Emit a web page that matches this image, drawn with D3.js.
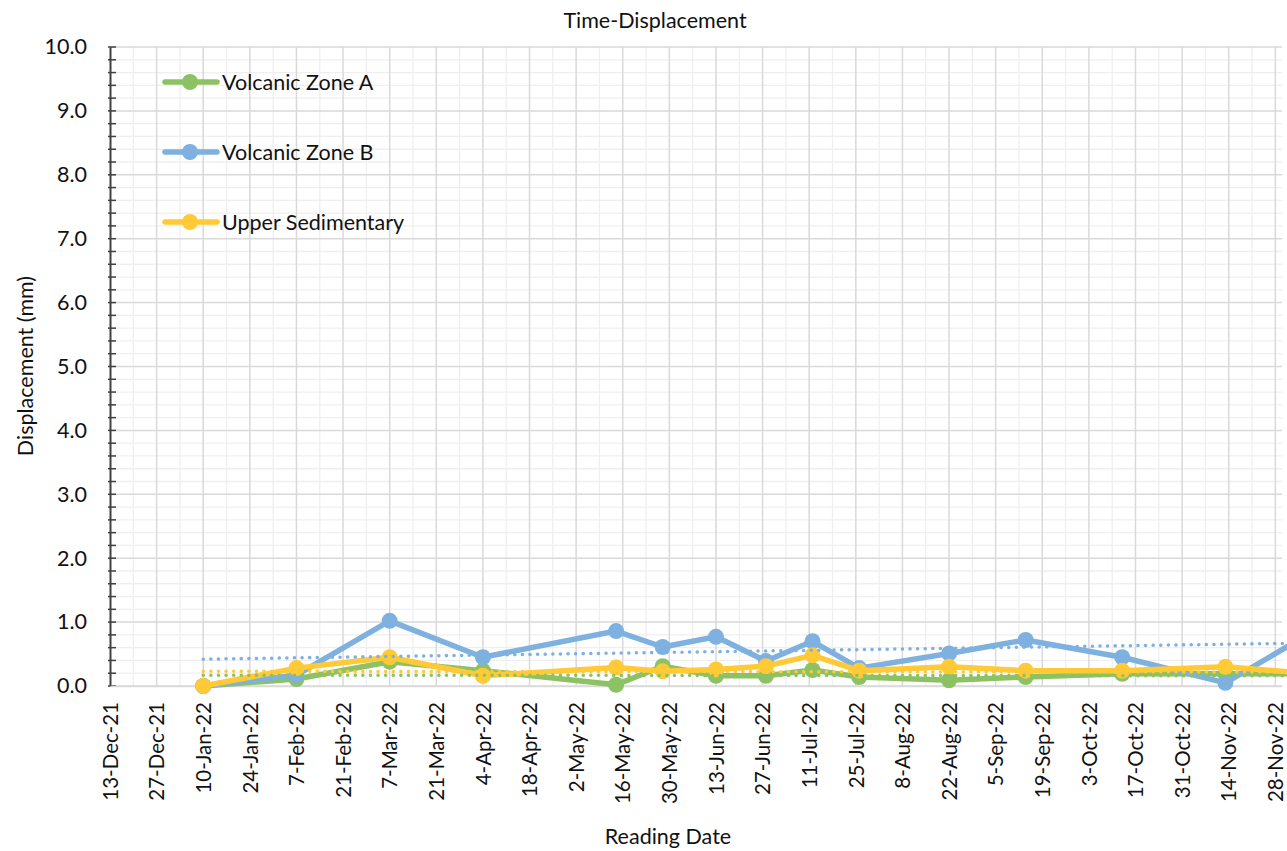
<!DOCTYPE html>
<html>
<head>
<meta charset="utf-8">
<script src="https://d3js.org/d3.v7.min.js"></script>
<style>
  html, body { margin: 0; padding: 0; background: #fff; overflow: hidden; }
  svg { display: block; }
</style>
</head>
<body>
<svg id="chart" width="1287" height="851"></svg>
<script>
// ---------- data ----------
const readingDates = ["2022-01-10","2022-02-07","2022-03-07","2022-04-04","2022-05-14","2022-05-28",
  "2022-06-13","2022-06-28","2022-07-12","2022-07-26","2022-08-22","2022-09-14","2022-10-13","2022-11-13","2022-12-05"];
const volcanicZoneA   = [0.00,0.11,0.38,0.24,0.02,0.31,0.16,0.16,0.25,0.14,0.09,0.14,0.19,0.19,0.19];
const volcanicZoneB   = [0.00,0.17,1.02,0.45,0.86,0.61,0.77,0.39,0.70,0.28,0.51,0.72,0.45,0.05,0.72];
const upperSedimentary= [0.00,0.28,0.45,0.16,0.29,0.23,0.26,0.31,0.48,0.24,0.30,0.24,0.24,0.30,0.21];
// linear trendline values at first and last reading date
const trendDates  = ["2022-01-10","2022-12-05"];
const trendZoneA  = [0.17, 0.16];
const trendZoneB  = [0.42, 0.67];
const trendUpper  = [0.23, 0.22];
const seriesNames = ["Volcanic Zone A","Volcanic Zone B","Upper Sedimentary"];
const seriesColors = ["#8cc263","#7eb1df","#ffca35"];
const xDomain = ["2021-12-13","2022-11-30"];
const yDomain = [0, 10];
const chartTitle = "Time-Displacement";
const xTitle = "Reading Date";
const yTitle = "Displacement (mm)";

// ---------- setup ----------
const FONT = "Lato, 'Open Sans', sans-serif";
const parse = d3.timeParse("%Y-%m-%d");
const dates = readingDates.map(parse);
const seriesValues = [volcanicZoneA, volcanicZoneB, upperSedimentary];
const trendValues = [trendZoneA, trendZoneB, trendUpper];

const svg = d3.select("#chart");
const plot = {left: 110, right: 1282, top: 47, bottom: 686};

const x = d3.scaleTime().domain(xDomain.map(parse)).range([plot.left, plot.right]);
const y = d3.scaleLinear().domain(yDomain).range([plot.bottom, plot.top]);

const start = parse(xDomain[0]);
const majorDates = d3.range(0, 400, 14).map(k => d3.timeDay.offset(start, k)).filter(d => d <= x.domain()[1]);
const minorDates = d3.range(7, 400, 14).map(k => d3.timeDay.offset(start, k)).filter(d => d <= x.domain()[1]);
const minorY = d3.range(0, 10.001, 0.2).filter(v => Math.abs(v - Math.round(v)) > 1e-6);
const majorY = d3.range(0, 11, 1);

// ---------- grid ----------
const grid = svg.append("g");
grid.selectAll(".hmin").data(minorY).join("line")
  .attr("x1", plot.left).attr("x2", plot.right)
  .attr("y1", d => y(d)).attr("y2", d => y(d))
  .attr("stroke", "#efefef").attr("stroke-width", 1.3);
grid.selectAll(".vmin").data(minorDates).join("line")
  .attr("x1", d => x(d)).attr("x2", d => x(d))
  .attr("y1", plot.top).attr("y2", plot.bottom)
  .attr("stroke", "#efefef").attr("stroke-width", 1.3);
grid.selectAll(".hmaj").data(majorY).join("line")
  .attr("x1", plot.left).attr("x2", plot.right)
  .attr("y1", d => y(d)).attr("y2", d => y(d))
  .attr("stroke", "#d9d9d9").attr("stroke-width", 1.5);
grid.selectAll(".vmaj").data(majorDates.slice(1)).join("line")
  .attr("x1", d => x(d)).attr("x2", d => x(d))
  .attr("y1", plot.top).attr("y2", plot.bottom)
  .attr("stroke", "#d9d9d9").attr("stroke-width", 1.5);

// ---------- axes ----------
const yAxis = d3.axisLeft(y).tickValues(majorY).tickFormat(d3.format(".1f")).tickSize(0).tickPadding(23);
const yg = svg.append("g").attr("transform", `translate(${plot.left},0)`).call(yAxis);
yg.select(".domain").attr("stroke", "#404040").attr("stroke-width", 2);
yg.selectAll("text").attr("font-family", FONT).attr("font-size", 21.5).attr("fill", "#111");
svg.append("g").selectAll("line").data(d3.range(0, 10.001, 0.2)).join("line")
  .attr("x1", plot.left - 2).attr("x2", plot.left + 6)
  .attr("y1", d => y(d)).attr("y2", d => y(d))
  .attr("stroke", "#404040").attr("stroke-width", 1.5);

const xAxis = d3.axisBottom(x).tickValues(majorDates).tickFormat(d3.timeFormat("%-d-%b-%y")).tickSize(0);
const xg = svg.append("g").attr("transform", `translate(0,${plot.bottom})`).call(xAxis);
xg.select(".domain").attr("stroke", "#d9d9d9").attr("stroke-width", 1.5);
xg.selectAll("text")
  .attr("font-family", FONT).attr("font-size", 20.5).attr("fill", "#111")
  .attr("transform", "rotate(-90)")
  .attr("text-anchor", "end")
  .attr("x", -16).attr("y", 0).attr("dy", "0.35em");

// ---------- series ----------
const line = d3.line().x(d => x(d[0])).y(d => y(d[1]));
const seriesG = svg.append("g");
seriesValues.forEach((vals, i) => {
  const pts = dates.map((d, j) => [d, vals[j]]);
  const g = seriesG.append("g");
  g.append("path").datum(pts).attr("d", line)
    .attr("fill", "none").attr("stroke", seriesColors[i]).attr("stroke-width", 5.5)
    .attr("stroke-linejoin", "round").attr("stroke-linecap", "round");
  g.selectAll("circle").data(pts).join("circle")
    .attr("cx", d => x(d[0])).attr("cy", d => y(d[1])).attr("r", 8)
    .attr("fill", seriesColors[i]);
});

// ---------- linear trendlines ----------
const tDates = trendDates.map(parse);
trendValues.forEach((vals, i) => {
  const ends = tDates.map((d, j) => [d, vals[j]]);
  svg.append("path").datum(ends).attr("d", line)
    .attr("fill", "none").attr("stroke", seriesColors[i]).attr("stroke-width", 3.5)
    .attr("stroke-linecap", "round").attr("stroke-dasharray", "0.1 7.5");
});

// ---------- legend ----------
const legY = [82, 152, 222];
const leg = svg.append("g");
seriesNames.forEach((name, i) => {
  const g = leg.append("g").attr("transform", `translate(0,${legY[i]})`);
  g.append("line").attr("x1", 165).attr("x2", 217).attr("y1", 0).attr("y2", 0)
    .attr("stroke", seriesColors[i]).attr("stroke-width", 5.5).attr("stroke-linecap", "round");
  g.append("circle").attr("cx", 190).attr("cy", 0).attr("r", 8).attr("fill", seriesColors[i]);
  g.append("text").attr("x", 222).attr("y", 0).attr("dy", "0.35em")
    .attr("font-family", FONT).attr("font-size", 21.5).attr("fill", "#111")
    .text(name);
});

// ---------- titles ----------
svg.append("text").attr("x", 655).attr("y", 28).attr("text-anchor", "middle")
  .attr("font-family", FONT).attr("font-size", 21.5).attr("fill", "#111")
  .text(chartTitle);
svg.append("text").attr("x", 668).attr("y", 844).attr("text-anchor", "middle")
  .attr("font-family", FONT).attr("font-size", 21.5).attr("fill", "#111")
  .text(xTitle);
svg.append("text").attr("transform", "translate(33,366) rotate(-90)").attr("text-anchor", "middle")
  .attr("font-family", FONT).attr("font-size", 21.5).attr("fill", "#111")
  .text(yTitle);
</script>
</body>
</html>
